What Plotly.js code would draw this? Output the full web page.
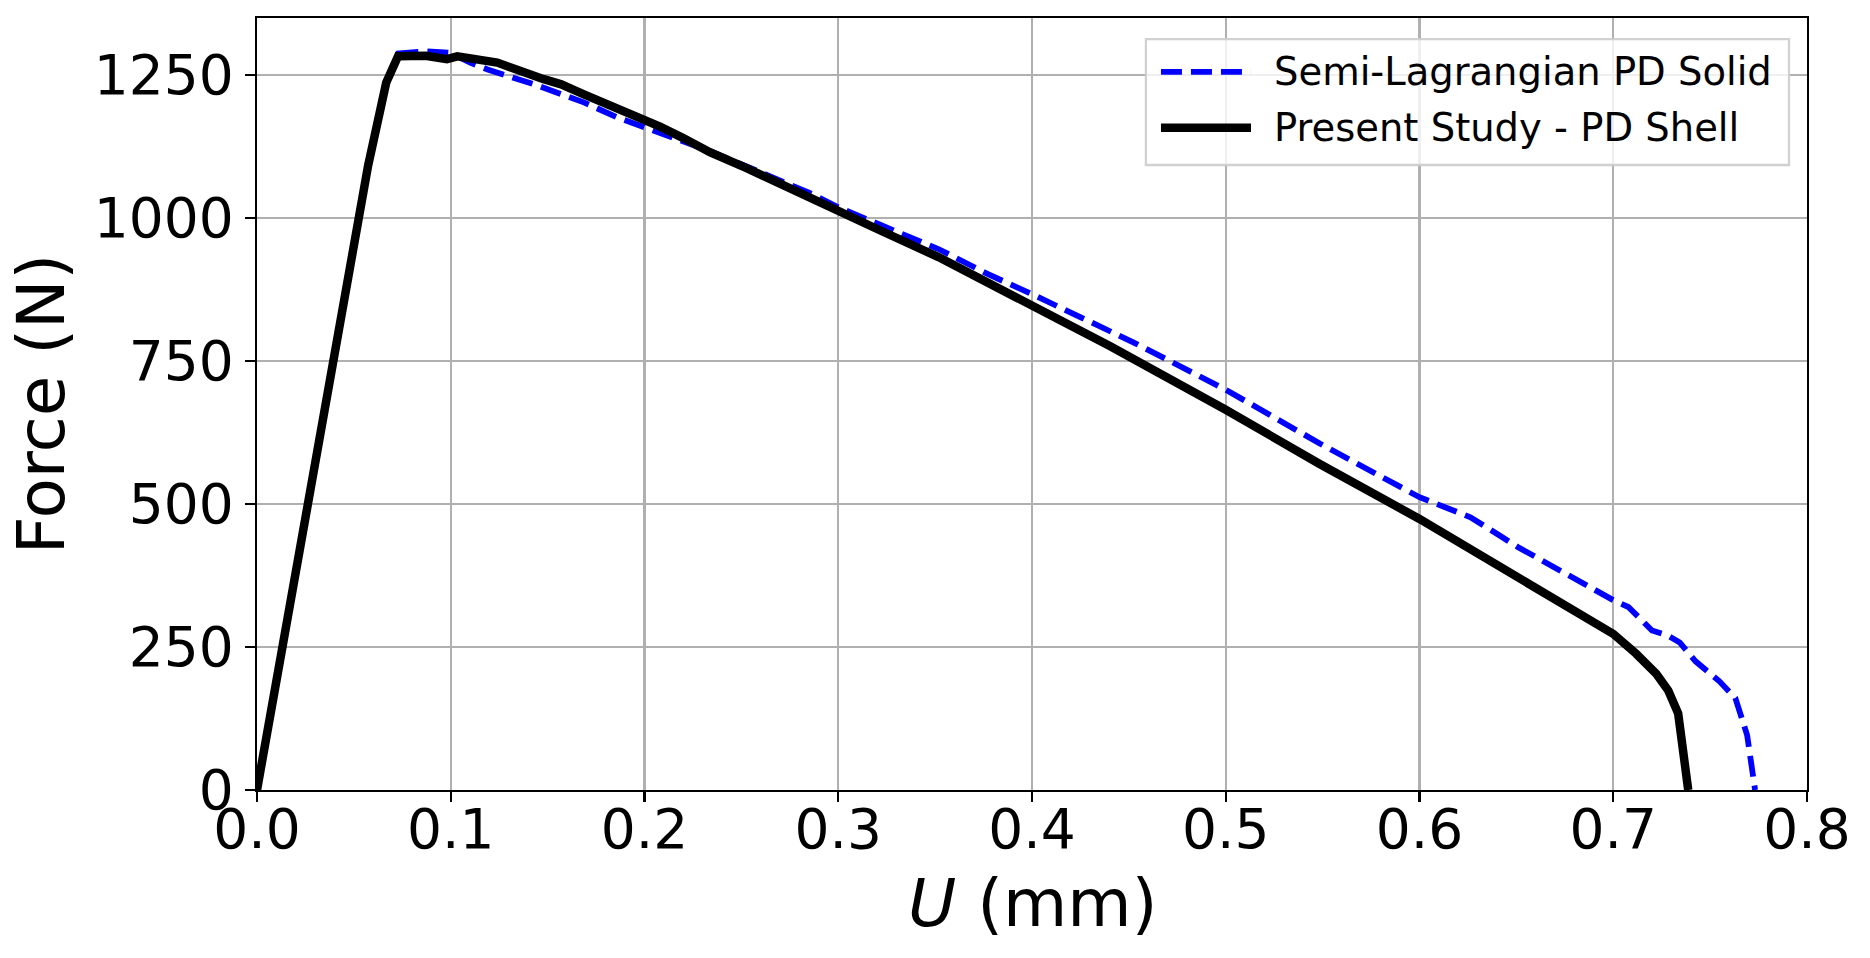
<!DOCTYPE html>
<html>
<head>
<meta charset="utf-8">
<script src="https://cdn.plot.ly/plotly-3.0.1.min.js"></script>
<style>
  html, body { margin: 0; padding: 0; background: #fff; }
  #plot { width: 1870px; height: 958px; }
</style>
</head>
<body>
<div id="plot"></div>
<script>
// displacement (mm) and force (N)
var shellU = [0, 0.0133, 0.0265, 0.0397, 0.0527, 0.0573, 0.0667, 0.0728, 0.087, 0.098, 0.1034,
  0.124, 0.148, 0.157, 0.169, 0.177, 0.191, 0.208, 0.220, 0.234, 0.253, 0.2787, 0.3,
  0.322, 0.3517, 0.3773, 0.4, 0.4404, 0.5, 0.5485, 0.6, 0.6507, 0.7, 0.7119, 0.7223,
  0.7284, 0.7335, 0.7387];
var shellF = [0, 250, 500, 750, 1000, 1091, 1237, 1283, 1284, 1278, 1283,
  1272, 1243, 1234, 1216, 1205, 1184, 1160, 1140, 1115, 1087, 1046, 1010,
  978, 932, 888, 846, 776, 665, 570, 474, 373, 273, 238, 203,
  174, 134, 0];

var solidU = [0, 0.0133, 0.0265, 0.0397, 0.0527, 0.0573, 0.0667, 0.0728, 0.087, 0.1, 0.11,
  0.119, 0.143, 0.169, 0.186, 0.203, 0.2186, 0.234, 0.253, 0.2866, 0.3, 0.322, 0.3517,
  0.3773, 0.4, 0.4528, 0.5, 0.5485, 0.6, 0.6263, 0.6507, 0.7, 0.7078, 0.72,
  0.7282, 0.7343, 0.7425, 0.7548, 0.763, 0.7691, 0.7732];
var solidF = [0, 250, 500, 750, 1000, 1091, 1237, 1288, 1292, 1289, 1272,
  1260, 1234, 1202, 1176, 1155, 1138, 1117, 1090, 1042, 1019, 987, 946,
  902, 867, 782, 700, 606, 512, 477, 425, 332, 320, 279,
  270, 258, 225, 190, 161, 96, 0];

var legendNames = ["Semi-Lagrangian PD Solid", "Present Study - PD Shell"];

var solid = {
  x: solidU, y: solidF, mode: "lines", name: legendNames[0],
  line: { color: "#0000ff", width: 5.8, dash: "21px,9px" }
};
var shell = {
  x: shellU, y: shellF, mode: "lines", name: legendNames[1],
  line: { color: "#000000", width: 8.5 }
};

var axisCommon = {
  showline: true, mirror: true, linecolor: "#000", linewidth: 2.3,
  ticks: "outside", ticklen: 10, tickwidth: 2.3, tickcolor: "#000",
  showgrid: true, gridcolor: "#b0b0b0", gridwidth: 2.2, zeroline: false,
  tickfont: { family: "DejaVu Sans", size: 55, color: "#000" }
};

// hand-made legend box so the line samples are as long as in the reference
var shapes = [
  { type: "rect", xref: "paper", yref: "paper", x0: 0.5735, x1: 0.9884, y0: 0.8096, y1: 0.9727,
    line: { color: "rgba(204,204,204,0.9)", width: 2.3 }, fillcolor: "rgba(255,255,255,0.8)" },
  { type: "line", xref: "paper", yref: "paper", x0: 0.5832, x1: 0.6413, y0: 0.9303, y1: 0.9303,
    line: { color: "#0000ff", width: 5.8, dash: "21px,9px" } },
  { type: "line", xref: "paper", yref: "paper", x0: 0.5832, x1: 0.6413, y0: 0.8578, y1: 0.8578,
    line: { color: "#000000", width: 8.5 } }
];
var annotations = [
  { xref: "paper", yref: "paper", x: 0.6548, y: 0.9303, xanchor: "left", yanchor: "middle",
    text: legendNames[0], showarrow: false, font: { family: "DejaVu Sans", size: 38.5, color: "#000" } },
  { xref: "paper", yref: "paper", x: 0.6548, y: 0.8578, xanchor: "left", yanchor: "middle",
    text: legendNames[1], showarrow: false, font: { family: "DejaVu Sans", size: 38.5, color: "#000" } },
  // x axis title
  { xref: "paper", yref: "paper", x: 0.5, y: -0.147, xanchor: "center", yanchor: "middle",
    text: "<i>U</i> (mm)", showarrow: false, font: { family: "DejaVu Sans", size: 66, color: "#000" } }
];

var layout = {
  width: 1870, height: 958,
  margin: { l: 257, r: 63, t: 18, b: 168 },
  paper_bgcolor: "#fff", plot_bgcolor: "#fff",
  showlegend: false,
  xaxis: Object.assign({}, axisCommon, {
    range: [0, 0.8], dtick: 0.1, tick0: 0, tickformat: ".1f", ticklabelstandoff: -20
  }),
  yaxis: Object.assign({}, axisCommon, {
    range: [0, 1350], dtick: 250, tick0: 0,
    title: { text: "Force (N)", standoff: 8, font: { family: "DejaVu Sans", size: 66, color: "#000" } }
  }),
  shapes: shapes,
  annotations: annotations
};

Plotly.newPlot("plot", [solid, shell], layout, { staticPlot: true });
</script>
</body>
</html>
